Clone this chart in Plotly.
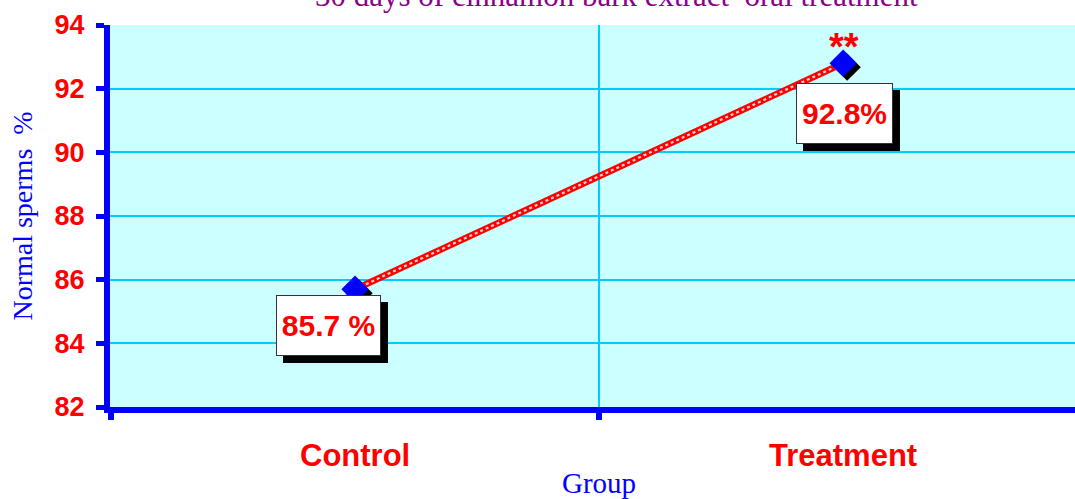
import plotly.graph_objects as go

groups = ["Control", "Treatment"]
normal_pct = [85.7, 92.8]
value_labels = ["85.7 %", "92.8%"]
sig_marks = ["", "**"]
y_ticks = [82, 84, 86, 88, 90, 92, 94]

XR = [-0.502, 1.475]
YR = [82, 94]
# pixel scales for a shadow offset of ~4px
PLOT_W, PLOT_H = 965, 382
dx = 4 * (XR[1] - XR[0]) / PLOT_W
dy = 4 * (YR[1] - YR[0]) / PLOT_H
xi = [0, 1]

fig = go.Figure()
# marker shadow (shifted axes)
fig.add_trace(go.Scatter(x=xi, y=normal_pct, mode="markers", xaxis="x2", yaxis="y2",
                         marker=dict(symbol="diamond", size=21, color="black"),
                         hoverinfo="skip", showlegend=False))
# line
fig.add_trace(go.Scatter(x=xi, y=normal_pct, mode="lines", xaxis="x3", yaxis="y3",
                         line=dict(color="#ff0000", width=6.5), showlegend=False))
fig.add_trace(go.Scatter(x=xi, y=normal_pct, mode="lines", xaxis="x3", yaxis="y3",
                         line=dict(color="#ffd0d0", width=2.2, dash="dot"), showlegend=False))
fig.add_trace(go.Scatter(x=xi, y=normal_pct, mode="markers", xaxis="x3", yaxis="y3",
                         marker=dict(symbol="diamond", size=21, color="#0000ff"),
                         showlegend=False))

offsets = [(-27, 36), (1, 50)]
box_w = [97, 89]
for i, (g, v, lab) in enumerate(zip(groups, normal_pct, value_labels)):
    ox, oy = offsets[i]
    common = dict(x=i, y=v, xref="x", yref="y", showarrow=True, arrowcolor="rgba(0,0,0,0)",
                  ax=ox, ay=oy, width=box_w[i], height=53, borderpad=3, borderwidth=1,
                  font=dict(family="Arial, Liberation Sans", size=30, color="#ff0000", weight="bold"))
    fig.add_annotation(text=" ", bgcolor="black", bordercolor="black",
                       xshift=7, yshift=-7, **common)
    fig.add_annotation(text=lab, bgcolor="white", bordercolor="#333333", **common)
    if sig_marks[i]:
        fig.add_annotation(x=i, y=v, xref="x", yref="y", text=sig_marks[i], showarrow=False,
                           yshift=16, xshift=1,
                           font=dict(family="Arial, Liberation Sans", size=38, color="#ff0000", weight="bold"))

fig.add_annotation(text="30 days of cinnamon bark extract \u00a0oral treatment", xref="paper", yref="paper",
                   x=0.525, y=(407 + 5) / 382, yanchor="middle", showarrow=False,
                   font=dict(family="Times New Roman, Liberation Serif", size=31, color="#8B008B"))

fig.update_layout(
    width=1075, height=499,
    margin=dict(l=110, r=0, t=25, b=92),
    paper_bgcolor="white", plot_bgcolor="#ccffff",
    showlegend=False,
    xaxis=dict(type="linear", range=XR, tickmode="array", tickvals=[-0.5, 0.5, 1.5], ticktext=["", "", ""],
               showgrid=True, gridcolor="#00ccff", gridwidth=2, zeroline=False, automargin=False,
               showline=True, linecolor="#0000ff", linewidth=6,
               ticks="outside", ticklen=7, tickwidth=6, tickcolor="#0000ff"),
    yaxis=dict(range=YR, tickmode="array", tickvals=y_ticks, automargin=False,
               showgrid=True, gridcolor="#00ccff", gridwidth=2, zeroline=False,
               showline=True, linecolor="#0000ff", linewidth=6,
               ticks="outside", ticklen=8, tickwidth=5, tickcolor="#0000ff",
               ticklabelstandoff=6,
               tickfont=dict(family="Arial, Liberation Sans", size=27, color="#ff0000", weight="bold"),
               title=dict(text="Normal sperms \u00a0%", standoff=16,
                          font=dict(family="Times New Roman, Liberation Serif", size=28, color="#0000ff"))),
    xaxis2=dict(overlaying="x", range=[XR[0] - dx, XR[1] - dx], visible=False),
    yaxis2=dict(overlaying="y", range=[YR[0] + dy, YR[1] + dy], visible=False),
    xaxis3=dict(overlaying="x", range=XR, visible=False),
    yaxis3=dict(overlaying="y", range=YR, visible=False),
)

# category labels under the axis
for i, g in enumerate(groups):
    fig.add_annotation(x=i, y=0, xref="x", yref="paper", text=g, showarrow=False,
                       yanchor="middle", yshift=-48,
                       font=dict(family="Arial, Liberation Sans", size=31, color="#ff0000", weight="bold"))
fig.add_annotation(x=0.5, y=0, xref="x", yref="paper", text="Group", showarrow=False,
                   yanchor="middle", yshift=-76,
                   font=dict(family="Times New Roman, Liberation Serif", size=29, color="#0000ff"))

fig.write_html("out.html", config={"displayModeBar": False},
               post_script="document.body.style.margin='0';")
